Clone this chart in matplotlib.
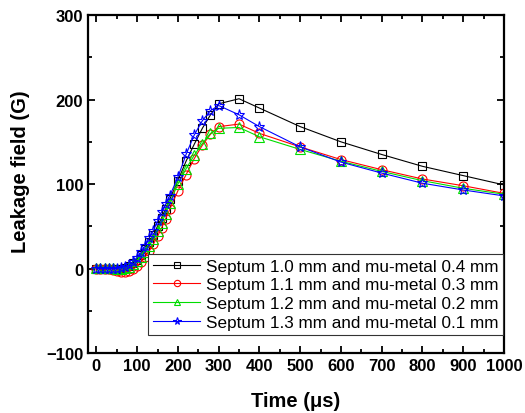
import numpy as np
import matplotlib
matplotlib.use('Agg')
import matplotlib.pyplot as plt
from matplotlib.ticker import MultipleLocator

plt.rcParams['font.family'] = ['Liberation Sans', 'DejaVu Sans']

# ---------------------------------------------------------------------------
# Data (time in us, leakage field in G)
# ---------------------------------------------------------------------------
time = [0, 10, 20, 30, 40, 50, 60, 70, 80, 90, 100, 110, 120, 130, 140, 150,
        160, 170, 180, 200, 220, 240, 260, 280, 300, 350, 400, 500, 600, 700,
        800, 900, 1000]

field_10_04 = [0, 0, 0, 0, 0, 0, 0, 1, 3, 6, 10, 16, 23, 31, 40, 50,
               60, 71, 82, 104, 127, 147, 166, 182, 195, 201, 190, 168, 150, 135,
               121, 110, 99]
field_11_03 = [0, 0, 0, -1, -2, -3, -4, -4, -3, -1, 3, 8, 14, 21, 29, 38,
               48, 59, 70, 92, 111, 130, 146, 159, 168, 171, 160, 144, 129, 117,
               106, 98, 89]
field_12_02 = [1, 1, 1, 1, 1, 0, 0, 1, 2, 5, 9, 14, 20, 27, 35, 44,
               54, 65, 78, 100, 118, 134, 148, 160, 166, 167, 156, 141, 127, 115,
               104, 95, 88]
field_13_01 = [0, 0, 0, 0, 0, 0, 1, 2, 4, 8, 13, 19, 27, 36, 45, 56,
               67, 76, 86, 108, 135, 158, 175, 187, 193, 182, 168, 144, 126, 113,
               101, 93, 86]

labels = ['Septum 1.0 mm and mu-metal 0.4 mm',
          'Septum 1.1 mm and mu-metal 0.3 mm',
          'Septum 1.2 mm and mu-metal 0.2 mm',
          'Septum 1.3 mm and mu-metal 0.1 mm']

series = [field_10_04, field_11_03, field_12_02, field_13_01]
colors = ['#000000', '#ff0000', '#00dd00', '#0000ff']
markers = ['s', 'o', '^', '*']
msizes = [6, 6.5, 7, 8]

# ---------------------------------------------------------------------------
# Plot
# ---------------------------------------------------------------------------
fig = plt.figure(figsize=(5.25, 4.14), dpi=100)
ax = fig.add_axes([0.168, 0.145, 0.792, 0.816])

for y, c, m, ms, lab in zip(series, colors, markers, msizes, labels):
    ax.plot(time, y, color=c, lw=0.8, marker=m, ms=ms, mfc='none',
            mec=c, mew=0.8, label=lab)

ax.set_xlim(-20, 1000)
ax.set_ylim(-100, 300)
ax.xaxis.set_major_locator(MultipleLocator(100))
ax.xaxis.set_minor_locator(MultipleLocator(50))
ax.yaxis.set_major_locator(MultipleLocator(100))
ax.yaxis.set_minor_locator(MultipleLocator(50))

ax.tick_params(which='both', direction='in', top=True, right=True,
               width=1.3, labelsize=12)
ax.tick_params(which='major', length=5)
ax.tick_params(which='minor', length=3)
for lab in ax.get_xticklabels() + ax.get_yticklabels():
    lab.set_fontweight('bold')
for s in ax.spines.values():
    s.set_linewidth(1.6)

ax.set_xlabel('Time (\u03bcs)', fontsize=14.5, fontweight='bold', labelpad=13)
ax.set_ylabel('Leakage field (G)', fontsize=14.5, fontweight='bold')
ax.yaxis.set_label_coords(-0.139, 0.54)

leg = ax.legend(loc='lower right', bbox_to_anchor=(0.998, 0.053),
                borderaxespad=0, fontsize=12.3, fancybox=False,
                edgecolor='#333333', framealpha=1, handlelength=2.7,
                handletextpad=0.35, labelspacing=0.22, borderpad=0.3,
                markerscale=0.7)
leg.get_frame().set_linewidth(0.8)

fig.savefig('out.png', dpi=100)
